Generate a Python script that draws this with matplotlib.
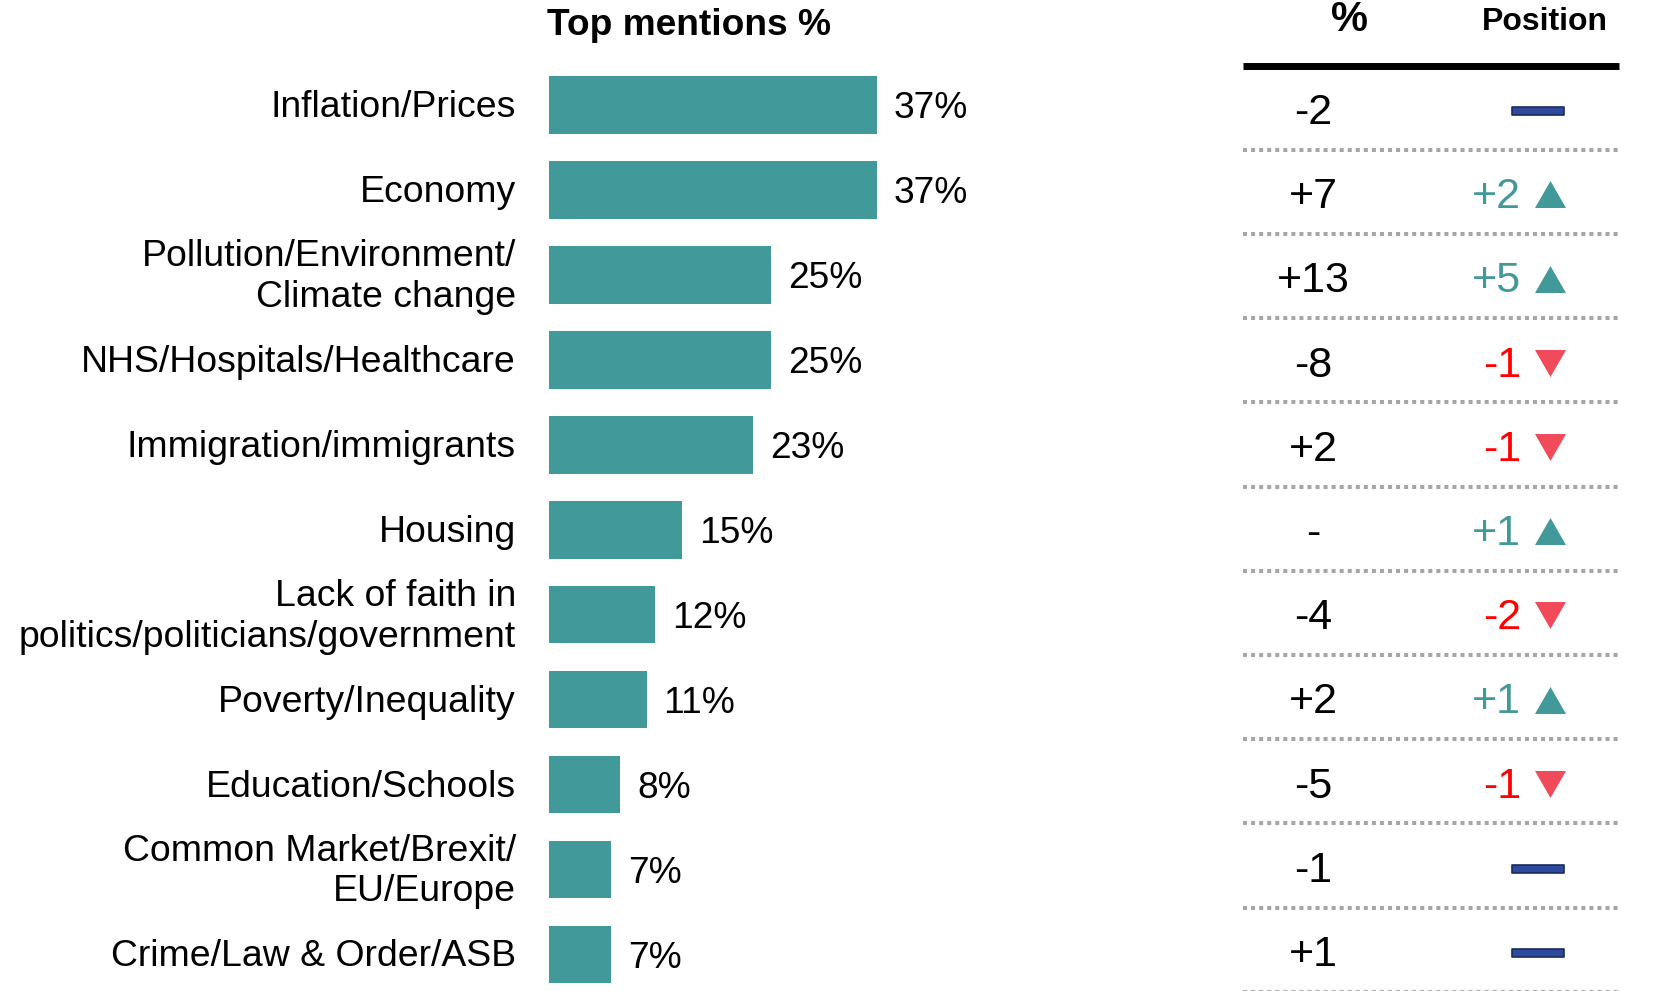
import matplotlib
matplotlib.use("Agg")
import matplotlib.pyplot as plt
from matplotlib.path import Path

plt.rcParams['font.family'] = ['Liberation Sans', 'DejaVu Sans']

# ---------------- data ----------------
categories = [
    "Inflation/Prices",
    "Economy",
    "Pollution/Environment/\nClimate change",
    "NHS/Hospitals/Healthcare",
    "Immigration/immigrants",
    "Housing",
    "Lack of faith in\npolitics/politicians/government",
    "Poverty/Inequality",
    "Education/Schools",
    "Common Market/Brexit/\nEU/Europe",
    "Crime/Law & Order/ASB",
]
top_mentions = [37, 37, 25, 25, 23, 15, 12, 11, 8, 7, 7]
pct_change = [-2, 7, 13, -8, 2, None, -4, 2, -5, -1, 1]
position_change = [0, 2, 5, -1, -1, 1, -2, 1, -1, 0, 0]

title_bars = "Top mentions %"
header_pct = "%"
header_pos = "Position"

# ---------------- styling ----------------
TEAL = "#42999A"
RED_TEXT = "#FF0000"
RED_TRI = "#F04A5B"
NAVY = "#2F4A9C"
NAVY_EDGE = "#1B2B5E"
GREY = "#A6A6A6"

W, H = 1658, 991
DPI = 100
fig = plt.figure(figsize=(W / DPI, H / DPI), dpi=DPI)

def px_axes(left, top, right, bottom):
    return fig.add_axes([left / W, 1 - bottom / H, (right - left) / W, (bottom - top) / H])

n = len(categories)

# ---------------- bar chart ----------------
px_per_pct = 8.865
xmax = 40
row0, pitch = 105.0, 84.95
axb = px_axes(549, row0 - pitch / 2, 549 + xmax * px_per_pct, row0 + pitch * (n - 0.5))
ypos = list(range(n))
axb.barh(ypos, top_mentions, height=0.677, color=TEAL, edgecolor='none')
axb.set_xlim(0, xmax)
axb.set_ylim(n - 0.5, -0.5)
axb.set_xticks([])
axb.set_yticks([])
for s in axb.spines.values():
    s.set_visible(False)

# category labels
label_x = -33 / px_per_pct
for i, lab in enumerate(categories):
    shift = (5.0 if "\n" in lab else 1.5) / pitch
    axb.text(label_x, i - shift, lab, fontsize=26.9, ha='right', va='center_baseline',
             linespacing=1.22, clip_on=False)

off = 17 / px_per_pct
for i, v in enumerate(top_mentions):
    axb.text(v + off, i, f"{v}%", fontsize=26.7, va='center_baseline', ha='left', color='black')

fig.text(547 / W, 1 - 35 / H, title_bars, fontsize=26.7, fontweight='bold',
         ha='left', va='baseline')

# ---------------- table ----------------
tl, tr = 1243, 1619
trow0, tpitch = 108.5, 84.2
axt = px_axes(tl, trow0 - tpitch / 2, tr, trow0 + tpitch * (n - 0.5))
axt.set_xlim(0, 1)
axt.set_ylim(n - 0.5, -0.5)
axt.axis('off')

def fx(px):
    return (px - tl) / (tr - tl)

x_pct = fx(1313)
x_pos_text = fx(1521)
x_tri = fx(1550)
x_dash = fx(1538)

tri_up = Path([(-1, -0.87), (1, -0.87), (0, 0.87), (-1, -0.87)],
              [Path.MOVETO, Path.LINETO, Path.LINETO, Path.CLOSEPOLY])
tri_dn = Path([(-1, 0.87), (1, 0.87), (0, -0.87), (-1, 0.87)],
              [Path.MOVETO, Path.LINETO, Path.LINETO, Path.CLOSEPOLY])
dash = Path([(-1, -0.14), (1, -0.14), (1, 0.14), (-1, 0.14), (-1, -0.14)],
            [Path.MOVETO, Path.LINETO, Path.LINETO, Path.LINETO, Path.CLOSEPOLY])

sep_off = 0.49
for i in range(n):
    c = pct_change[i]
    label = "-" if c is None else (f"+{c}" if c > 0 else f"{c}")
    axt.text(x_pct, i, label, fontsize=31, ha='center', va='center_baseline', color='black')
    p = position_change[i]
    if p == 0:
        axt.plot([x_dash], [i + 0.03], marker=dash, markersize=53 * 0.72,
                 markerfacecolor=NAVY, markeredgecolor=NAVY_EDGE, markeredgewidth=1.2,
                 linestyle='none')
    elif p > 0:
        axt.text(x_pos_text, i, f"+{p}", fontsize=31, ha='right', va='center_baseline', color=TEAL)
        axt.plot([x_tri], [i + 0.02], marker=tri_up, markersize=31 * 0.72,
                 color=TEAL, markeredgewidth=0, linestyle='none')
    else:
        axt.text(x_pos_text, i, f"{p}", fontsize=31, ha='right', va='center_baseline', color=RED_TEXT)
        axt.plot([x_tri], [i + 0.02], marker=tri_dn, markersize=31 * 0.72,
                 color=RED_TRI, markeredgewidth=0, linestyle='none')
    # dotted separator below each row
    axt.plot([0, 1], [i + sep_off, i + sep_off], color=GREY, linewidth=2.9,
             linestyle=(0, (1, 1)), dash_capstyle='butt', clip_on=False)

# thick header line
y_thick = (65.5 - trow0) / tpitch
axt.plot([0, 1], [y_thick, y_thick], color='black', linewidth=5.0,
         solid_capstyle='butt', clip_on=False)

fig.text(1350 / W, 1 - 31 / H, header_pct, fontsize=30, fontweight='bold',
         ha='center', va='baseline')
fig.text(1545 / W, 1 - 30 / H, header_pos, fontsize=23, fontweight='bold',
         ha='center', va='baseline')

fig.savefig("out.png", dpi=DPI, facecolor='white')
